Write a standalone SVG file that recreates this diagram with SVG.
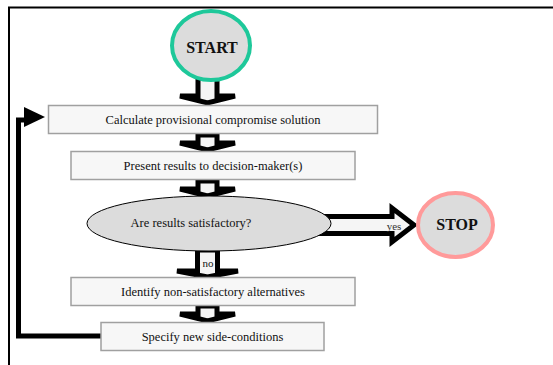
<svg xmlns="http://www.w3.org/2000/svg" width="553" height="365" viewBox="0 0 553 365">
<style>
.box{fill:#f7f7f7;stroke:#a0a0a0;stroke-width:1.5}
.t{font-family:"Liberation Serif","Times New Roman",serif;font-size:12.5px;fill:#111;text-anchor:middle}
.tb{font-family:"Liberation Serif","Times New Roman",serif;font-size:16px;font-weight:bold;fill:#111;text-anchor:middle}
.blk{fill:#f5f5f5;stroke:#000;stroke-width:5;stroke-linejoin:miter}
.term{fill:#dcdcdc;stroke-width:4}
</style>
<rect width="553" height="365" fill="#fff"/>
<path d="M9 365 V7.5 H553" fill="none" stroke="#000" stroke-width="2"/>
<g id="connectors">
  <polygon class="blk" points="198,78 217,78 217,96 235,96 207.5,103 180,96 198,96"/>
  <polygon class="blk" points="198,135 217,135 217,143 235,143 207.5,150 180,143 198,143"/>
  <polygon class="blk" points="198,181 217,181 217,189 235,189 207.5,196 180,189 198,189"/>
  <polygon class="blk" points="197.5,250 217.5,250 217.5,271 238,271 207.5,277 177,271 197.5,271"/>
  <polygon class="blk" points="198,306 217,306 217,314 235,314 207.5,321 180,314 198,314"/>
  <polygon class="blk" points="320,216.5 392,216.5 392,208 414,225 392,242 392,233.5 320,233.5"/>
  <text x="394" y="230" font-family="'Liberation Serif','Times New Roman',serif" font-size="11" fill="#333" text-anchor="middle">yes</text>
  <text x="208" y="267" font-family="'Liberation Serif','Times New Roman',serif" font-size="11" fill="#111" text-anchor="middle">no</text>
  <path d="M101 336 H18.5 V120 H27" fill="none" stroke="#000" stroke-width="5"/>
  <polygon points="24,107 24,127 45,117" fill="#000"/>
</g>
<g id="start">
  <ellipse class="term" cx="211" cy="45.5" rx="39" ry="34.5" stroke="#1ec89a"/>
  <text class="tb" x="212" y="53">START</text>
</g>
<g id="calc">
  <rect class="box" x="48.5" y="105.5" width="329" height="28"/>
  <text class="t" x="213" y="123.5">Calculate provisional compromise solution</text>
</g>
<g id="present">
  <rect class="box" x="71" y="151.5" width="284" height="28"/>
  <text class="t" x="213" y="169.5">Present results to decision-maker(s)</text>
</g>
<g id="decision">
  <ellipse cx="209" cy="223.5" rx="122" ry="27.5" fill="#dcdcdc" stroke="#000" stroke-width="1"/>
  <text class="t" x="191" y="227">Are results satisfactory?</text>
</g>
<g id="stop">
  <ellipse class="term" cx="455.5" cy="225" rx="37.5" ry="32" stroke="#ff9a9a"/>
  <text class="tb" x="457" y="230">STOP</text>
</g>
<g id="identify">
  <rect class="box" x="71" y="277.5" width="284" height="28"/>
  <text class="t" x="213" y="295.5">Identify non-satisfactory alternatives</text>
</g>
<g id="specify">
  <rect class="box" x="101" y="322.5" width="223" height="28"/>
  <text class="t" x="212.5" y="340.5">Specify new side-conditions</text>
</g>
</svg>
